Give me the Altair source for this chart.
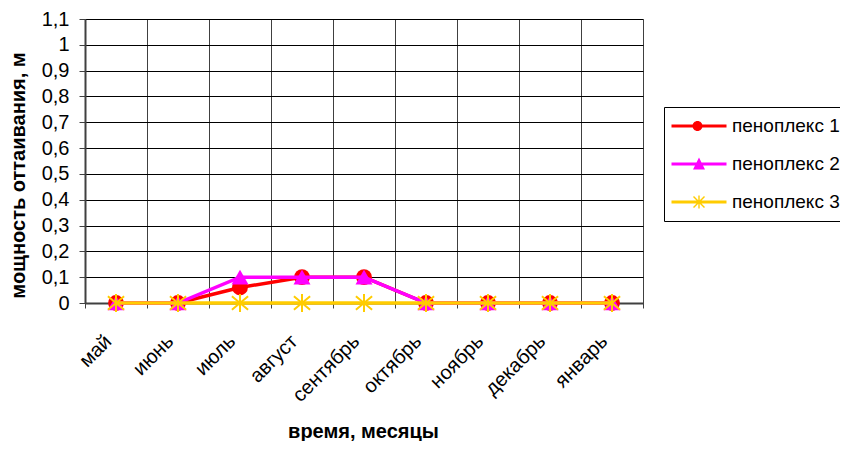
import altair as alt
import pandas as pd

months = ["май", "июнь", "июль", "август", "сентябрь", "октябрь", "ноябрь", "декабрь", "январь"]
series_names = ["пеноплекс 1", "пеноплекс 2", "пеноплекс 3"]
s1 = [0, 0, 0.06, 0.1, 0.1, 0, 0, 0, 0]
s2 = [0, 0, 0.1, 0.1, 0.1, 0, 0, 0, 0]
s3 = [0, 0, 0, 0, 0, 0, 0, 0, 0]
colors = ["#FF0000", "#FF00FF", "#FFCC00"]
y_ticks = [0, 0.1, 0.2, 0.3, 0.4, 0.5, 0.6, 0.7, 0.8, 0.9, 1.0, 1.1]

rows = []
for name, vals in zip(series_names, [s1, s2, s3]):
    for m, v in zip(months, vals):
        rows.append({"month": m, "series": name, "value": v})
df = pd.DataFrame(rows)

FONT = "Liberation Sans"

x = alt.X(
    "month:N",
    sort=months,
    scale=alt.Scale(type="band", domain=months, paddingInner=0, paddingOuter=0),
    axis=alt.Axis(
        title="время, месяцы",
        titleFont=FONT, titleFontSize=20, titleFontWeight="bold", titleColor="#000",
        titleX=278, titleY=134, titleBaseline="alphabetic",
        labelFont=FONT, labelFontSize=20, labelColor="#000",
        labelAngle=-45, labelAlign="right", labelBaseline="middle",
        labelOffset=-8, labelPadding=30,
        tickBand="extent", tickSize=5, tickColor="#404040",
        grid=True, gridColor="#404040", gridWidth=1,
        domainColor="#404040", domainWidth=2,
    ),
)
y = alt.Y(
    "value:Q",
    scale=alt.Scale(domain=[0, 1.1], nice=False, zero=True),
    axis=alt.Axis(
        title="мощность оттаивания, м",
        titleFont=FONT, titleFontSize=20, titleFontWeight="bold", titleColor="#000",
        titleAngle=-90, titleBaseline="middle", titleX=-67, titleY=156,
        values=y_ticks,
        labelExpr="replace(format(datum.value, '.1~f'), '.', ',')",
        labelFont=FONT, labelFontSize=20, labelColor="#000", labelPadding=10,
        tickSize=6, tickColor="#404040",
        grid=True, gridColor="#000000", gridWidth=1,
        domainColor="#404040", domainWidth=2,
    ),
)

base = alt.Chart(df).encode(x=x, y=y)

def sel(name):
    return base.transform_filter(alt.datum.series == name)

star_path = "M0,-1L0,1M-0.9,-0.75L0.9,0.75M-0.9,0.75L0.9,-0.75"

line1 = sel(series_names[0]).mark_line(color=colors[0], strokeWidth=3.5)
pts1 = sel(series_names[0]).mark_point(shape="circle", filled=True, size=250, color=colors[0], opacity=1)
line2 = sel(series_names[1]).mark_line(color=colors[1], strokeWidth=3.5)
pts2 = sel(series_names[1]).mark_point(shape="triangle-up", filled=True, size=289, color=colors[1], opacity=1)
line3 = sel(series_names[2]).mark_line(color=colors[2], strokeWidth=3.5)
pts3 = sel(series_names[2]).mark_point(shape=star_path, filled=False, size=324, color=colors[2],
                                       strokeWidth=2, opacity=1)

bar_line = "M-2.75,-0.15H2.75V0.15H-2.75Z "
legend_shapes = [
    bar_line + "M0.35,0A0.5,0.5,0,1,1,-0.65,0A0.5,0.5,0,1,1,0.35,0Z",
    bar_line + "M0,-0.65L0.6,0.55L-0.6,0.55Z",
    bar_line + "M-0.07,-0.65H0.07V0.65H-0.07Z M-0.5,-0.6L0.6,0.5L0.5,0.6L-0.6,-0.5Z M0.6,-0.5L-0.5,0.6L-0.6,0.5L0.5,-0.6Z",
]

def mk_legend():
    return alt.Legend(
        title=None, orient="none", legendX=579, legendY=88,
        labelFont=FONT, labelFontSize=19, labelColor="#000", labelLimit=400,
        symbolSize=400, symbolStrokeWidth=0, symbolOpacity=1,
        symbolOffset=16, labelOffset=23, rowPadding=18, padding=9,
        strokeColor="#000000", fillColor="#FFFFFF",
    )

legend_layer = alt.Chart(df).transform_filter("datum.value < -1").mark_point(
    filled=True, opacity=1
).encode(
    x=x, y=y,
    color=alt.Color("series:N", scale=alt.Scale(domain=series_names, range=colors), legend=mk_legend()),
    shape=alt.Shape("series:N", scale=alt.Scale(domain=series_names, range=legend_shapes), legend=mk_legend()),
)

chart = alt.layer(line1, pts1, line2, pts2, line3, pts3, legend_layer).properties(
    width=558, height=284,
    autosize=alt.AutoSizeParams(type="none"),
    padding={"left": 77, "top": 11, "right": 197, "bottom": 138},
).configure_view(stroke="#808080", strokeWidth=2).configure(background="white")

chart.save("out.html", embed_options={"renderer": "svg", "actions": False})
